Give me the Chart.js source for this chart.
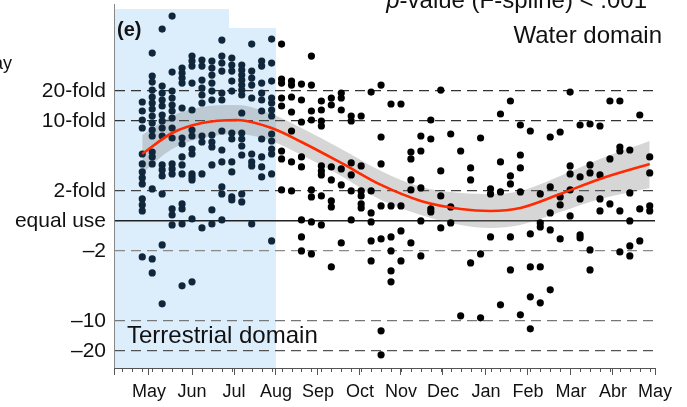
<!DOCTYPE html>
<html>
<head>
<meta charset="utf-8">
<script src="https://cdn.jsdelivr.net/npm/chart.js@4.4.0/dist/chart.umd.min.js"></script>
<style>
  html, body { margin: 0; padding: 0; background: #fff; }
  #wrap { width: 687px; height: 407px; position: relative; }
</style>
</head>
<body>
<div id="wrap"><canvas id="domainChart"></canvas></div>
<script>
// x axis is in weeks, week 0 = first sampled week of May
const monthLabels = ['May', 'Jun', 'Jul', 'Aug', 'Sep', 'Oct', 'Nov', 'Dec', 'Jan', 'Feb', 'Mar', 'Abr', 'May'];
const monthWeeks = [0.67, 5.0, 9.22, 13.44, 17.66, 21.88, 26.0, 30.22, 34.54, 38.76, 43.08, 47.3, 51.53];

const foldLabels = ['20-fold', '10-fold', '2-fold', 'equal use', '–2', '–10', '–20'];
const foldRatios = [20, 10, 2, 1, 1 / 2, 1 / 10, 1 / 20];

// log10(water / terrestrial use), one list per week
const weeklyObs = [
  [1.19, 1.10, 1.01, 0.93, 0.67, 0.57, 0.49, 0.43, 0.37, 0.22, 0.16, 0.10, -0.36],
  [1.68, 1.45, 1.39, 1.31, 1.24, 1.18, 1.12, 1.05, 0.98, 0.91, 0.85, 0.69, 0.64, 0.57, 0.32, -0.38, -0.52],
  [1.92, 1.35, 1.28, 1.21, 1.15, 1.06, 1.00, 0.93, 0.85, 0.56, 0.51, 0.45, 0.27, -0.24, -0.83],
  [2.05, 1.49, 1.30, 1.23, 1.16, 1.10, 1.03, 0.93, 0.83, 0.57, 0.52, 0.47, 0.12, 0.06, -0.04],
  [1.53, 1.48, 1.43, 1.38, 1.13, 0.83, 0.77, 0.64, 0.56, 0.47, 0.17, 0.12, -0.03, -0.65],
  [1.65, 1.60, 1.55, 1.38, 1.11, 0.91, 0.85, 0.72, 0.67, 0.47, 0.44, 0.41, 0.02, -0.61],
  [1.61, 1.55, 1.41, 1.33, 1.26, 1.18, 0.85, 0.79, 0.47, -0.07],
  [1.60, 1.53, 1.46, 1.38, 1.30, 1.21, 0.86, 0.79, 0.74, 0.56, 0.11, -0.03],
  [1.81, 1.65, 1.58, 1.50, 1.28, 1.21, 0.90, 0.71, 0.59, 0.34, 0.27, 0.01],
  [1.63, 1.56, 1.50, 1.40, 1.30, 0.88, 0.82, 0.59, 0.49, 0.24, 0.21],
  [1.56, 1.51, 1.46, 1.41, 1.36, 1.31, 1.26, 1.08, 0.88, 0.82, 0.75, 0.66, 0.27, 0.19],
  [1.77, 1.50, 1.43, 1.36, 1.23, 0.67, 0.59, 0.55, -0.03],
  [1.60, 1.55, 1.38, 1.28, 1.21, 1.10, 0.82, 0.64, 0.54, 0.44],
  [1.82, 1.58, 1.40, 1.23, 1.18, 1.11, 1.05, 0.87, 0.80, 0.72, 0.67, 0.47, -0.20],
  [1.77, 1.42, 1.38, 1.23, 1.15, 0.70, 0.62, 0.31],
  [1.40, 1.36, 1.24, 1.09, 0.90, 0.59, 0.30],
  [1.37, 1.21, 0.99, 0.64, 0.54, 0.01, -0.16, -0.30],
  [1.65, 1.36, 1.10, 1.01, 0.31, 0.24, -0.01, -0.33],
  [1.20, 1.11, 1.00, 0.95, 0.55, 0.50, 0.46, 0.25, -0.04],
  [1.23, 1.16, 0.54, 0.41, 0.20, 0.14, -0.46],
  [1.28, 1.23, 1.11, 0.52, 0.36, -0.22],
  [1.05, 1.00, 0.58, 0.46, 0.30, 0.01],
  [1.05, 0.55, 0.30, 0.25, 0.17, 0.13],
  [1.29, 0.30, 0.08, -0.01, -0.20, -0.40],
  [1.36, 0.84, 0.57, 0.15, -0.18, -1.10, -1.34],
  [1.17, 0.15, -0.16, -0.30, -0.50, -0.61],
  [1.17, 0.15, -0.10, -0.40],
  [0.69, 0.62, 0.41, 0.31, -0.22],
  [0.85, 0.70, 0.33, 0.00, -0.35],
  [1.01, 0.82, 0.12, 0.09],
  [1.31, 0.50, 0.25, -0.07],
  [0.87, 0.14, -0.02],
  [0.70, -0.95],
  [0.53, 0.41, -0.42],
  [0.83, -0.33, -0.97],
  [0.32, 0.27, -0.16],
  [1.07, 0.59, 0.29, -0.84],
  [1.20, 0.45, 0.37, -0.16, -0.49],
  [0.96, 0.66, 0.53, 0.29, -0.94],
  [0.90, -0.13, -0.46, -0.76, -1.08],
  [0.27, -0.02, -0.06, -0.46, -0.82],
  [0.84, 0.34, 0.08, -0.09, -0.69],
  [0.89, 0.24, 0.16, -0.18],
  [1.29, 0.55, 0.47, 0.31, 0.05],
  [0.96, 0.44, 0.22, -0.14, -0.17],
  [0.97, 0.56, 0.48, -0.29, -0.49],
  [0.95, 0.46, 0.22, 0.10],
  [1.20, 0.62, 0.17],
  [1.20, 0.74, 0.70, 0.10, -0.31],
  [0.71, 0.28, 0.00, -0.25, -0.35],
  [1.06, 0.12, -0.20],
  [0.64, 0.48, 0.15, 0.10]
];
const terrestrialWeeks = 14;

// fitted spline and its confidence band
const fitWeeks = [0, 3, 6, 9.5, 13, 16, 20, 24, 28, 32, 35, 38, 42, 46, 51];
const fitValues = [0.67, 0.88, 0.98, 1.01, 0.93, 0.79, 0.58, 0.36, 0.20, 0.12, 0.10, 0.13, 0.27, 0.42, 0.57];
const fitUpper = [0.86, 1.05, 1.14, 1.16, 1.07, 0.93, 0.72, 0.50, 0.34, 0.28, 0.27, 0.30, 0.45, 0.62, 0.80];
const fitLower = [0.48, 0.72, 0.83, 0.87, 0.80, 0.66, 0.45, 0.21, 0.06, -0.04, -0.07, -0.04, 0.09, 0.22, 0.33];

Chart.defaults.font.family = "'Liberation Sans', Arial, sans-serif";

const toXY = (xs, ys) => xs.map((x, i) => ({ x: x, y: ys[i] }));
const landPts = [];
const waterPts = [];
weeklyObs.forEach((vals, w) => {
  vals.forEach(v => (w < terrestrialWeeks ? landPts : waterPts).push({ x: w, y: v }));
});

// blue terrestrial season + white box behind the p-value label
const seasonShade = {
  id: 'seasonShade',
  beforeDraw(chart) {
    const { ctx, chartArea } = chart;
    const x = chart.scales.x;
    const xEnd = x.getPixelForValue(monthWeeks[3]);
    ctx.save();
    ctx.fillStyle = '#dcedfb';
    ctx.fillRect(chartArea.left, chartArea.top + 5, xEnd - chartArea.left, chartArea.bottom - chartArea.top - 5);
    ctx.fillStyle = '#ffffff';
    ctx.fillRect(chartArea.left + 115, 0, chartArea.right - chartArea.left - 115, 28);
    ctx.restore();
  }
};

// weekly minor ticks under the x axis
const weekTicks = {
  id: 'weekTicks',
  afterDraw(chart) {
    const x = chart.scales.x;
    const ctx = chart.ctx;
    const y0 = chart.chartArea.bottom;
    ctx.save();
    ctx.strokeStyle = '#555';
    ctx.lineWidth = 1;
    for (let w = Math.ceil(x.min); w <= x.max; w++) {
      const px = Math.round(x.getPixelForValue(w)) + 0.5;
      ctx.beginPath();
      ctx.moveTo(px, y0);
      ctx.lineTo(px, y0 + 4);
      ctx.stroke();
    }
    ctx.restore();
  }
};

const labels = {
  id: 'labels',
  afterDraw(chart) {
    const { ctx, chartArea } = chart;
    ctx.save();
    ctx.fillStyle = '#111';
    ctx.textBaseline = 'alphabetic';
    ctx.textAlign = 'left';
    ctx.font = "bold 20px 'Liberation Sans', Arial, sans-serif";
    ctx.fillText('(e)', chartArea.left + 3, 36);
    ctx.font = "24px 'Liberation Sans', Arial, sans-serif";
    ctx.fillText('Terrestrial domain', chartArea.left + 13, 343);
    ctx.textAlign = 'right';
    ctx.fillText('Water domain', 662, 43);
    // p-value line, mostly cut off at the top
    const rest = '-value (F-spline) < .001';
    const restW = ctx.measureText(rest).width;
    ctx.fillText(rest, 647, 7.5);
    ctx.font = "italic 24px 'Liberation Sans', Arial, sans-serif";
    ctx.fillText('p', 647 - restW, 7.5);
    ctx.font = "18px 'Liberation Sans', Arial, sans-serif";
    ctx.fillText('ay', 12, 69);
    ctx.restore();
  }
};

const yTickColors = ['#333', '#333', '#444', '#222', '#888', '#777', '#555'];

new Chart(document.getElementById('domainChart'), {
  type: 'scatter',
  data: {
    datasets: [
      {
        data: toXY(fitWeeks, fitValues),
        showLine: true,
        borderColor: '#ff2a00',
        borderWidth: 2.6,
        pointRadius: 0,
        cubicInterpolationMode: 'monotone',
        order: 0
      },
      {
        data: landPts,
        backgroundColor: '#10263a',
        borderColor: '#10263a',
        borderWidth: 0,
        pointRadius: 3.6,
        order: 1
      },
      {
        data: waterPts,
        backgroundColor: '#000',
        borderColor: '#000',
        borderWidth: 0,
        pointRadius: 3.6,
        order: 1
      },
      {
        data: toXY(fitWeeks, fitUpper),
        showLine: true,
        borderColor: 'rgba(0,0,0,0)',
        borderWidth: 0,
        pointRadius: 0,
        cubicInterpolationMode: 'monotone',
        fill: '+1',
        backgroundColor: 'rgba(128,128,128,0.32)',
        order: 2
      },
      {
        data: toXY(fitWeeks, fitLower),
        showLine: true,
        borderColor: 'rgba(0,0,0,0)',
        borderWidth: 0,
        pointRadius: 0,
        cubicInterpolationMode: 'monotone',
        fill: false,
        order: 2
      }
    ]
  },
  options: {
    responsive: true,
    maintainAspectRatio: false,
    animation: false,
    events: [],
    layout: { padding: { top: 0, right: 32, left: 0, bottom: 0 } },
    plugins: {
      legend: { display: false },
      tooltip: { enabled: false }
    },
    scales: {
      x: {
        type: 'linear',
        min: -2.84,
        max: 51.53,
        afterFit: s => { s.height = 39; },
        afterBuildTicks: s => {
          s.ticks = [s.min].concat(monthWeeks).map(v => ({ value: v }));
        },
        ticks: {
          autoSkip: false,
          maxRotation: 0,
          padding: 6,
          color: '#111',
          font: { size: 18 },
          callback: (v, i) => (i === 0 ? '' : monthLabels[i - 1])
        },
        grid: {
          drawOnChartArea: false,
          drawTicks: true,
          tickLength: 7,
          tickColor: '#555',
          tickWidth: 1
        },
        border: { color: '#555', width: 1 }
      },
      y: {
        type: 'linear',
        min: -1.472,
        max: 2.171,
        afterFit: s => {
          s.width = 114;
          s.paddingTop = 0;
          s.paddingBottom = 0;
        },
        afterBuildTicks: s => {
          s.ticks = foldRatios.map(r => ({ value: Math.log10(r) }));
        },
        ticks: {
          padding: 8,
          color: '#111',
          font: { size: 21 },
          callback: (v, i) => foldLabels[i]
        },
        grid: {
          drawTicks: false,
          color: yTickColors,
          lineWidth: foldRatios.map(r => (r === 1 ? 1.6 : 1.2))
        },
        border: {
          color: '#888',
          width: 1,
          dash: c => (c.tick && c.tick.value !== 0 ? [10, 6] : [])
        }
      }
    }
  },
  plugins: [seasonShade, weekTicks, labels]
});
</script>
</body>
</html>
